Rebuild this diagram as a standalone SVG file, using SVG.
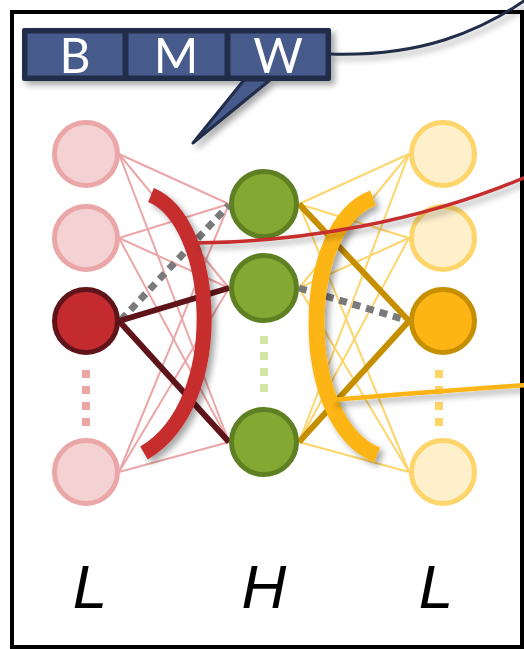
<svg xmlns="http://www.w3.org/2000/svg" width="524" height="649" viewBox="0 0 524 649">
  <defs>
    <filter id="shadow" x="-30%" y="-30%" width="160%" height="160%">
      <feDropShadow dx="4" dy="4" stdDeviation="3" flood-color="#000" flood-opacity="0.35"/>
    </filter>
    <style>
      .thinL { stroke: #eba6a7; stroke-width: 2; fill: none; }
      .thinR { stroke: #fdd56b; stroke-width: 2; fill: none; }
      .strongL { stroke: #5e1418; stroke-width: 6; fill: none; }
      .strongR { stroke: #c68f00; stroke-width: 6; fill: none; }
      .dotted { stroke: #7a7a7a; stroke-width: 7; stroke-dasharray: 8 6; fill: none; }
      .pinkN { fill: #f4d1d2; stroke: #eba6a7; stroke-width: 5; }
      .redN { fill: #c42b2e; stroke: #5e1418; stroke-width: 5; }
      .greenN { fill: #84a832; stroke: #5e7f22; stroke-width: 5; }
      .paleN { fill: #fff0cc; stroke: #fdd56b; stroke-width: 5; }
      .goldN { fill: #fdb515; stroke: #c68f00; stroke-width: 5; }
      .cell { fill: #465a8c; stroke: #222d4a; stroke-width: 3; }
      .cellText { font-family: Lato, "Open Sans", sans-serif; font-size: 48px; fill: #ffffff; text-anchor: middle; }
      .layer { font-family: "Liberation Sans", Arial, sans-serif; font-style: italic; font-size: 62px; fill: #000; text-anchor: middle; }
    </style>
  </defs>

  <rect width="524" height="649" fill="#ffffff"/>
  <!-- frame -->
  <rect x="12" y="12" width="510" height="635" fill="none" stroke="#000" stroke-width="4"/>

  <!-- connectors -->
  <g id="connectors">
    <!-- input layer to hidden layer -->
    <g>
      <line class="thinL" x1="119" y1="154" x2="229" y2="204"/>
      <line class="thinL" x1="119" y1="154" x2="229" y2="288"/>
      <line class="thinL" x1="119" y1="154" x2="229" y2="442"/>
      <line class="thinL" x1="119" y1="238" x2="229" y2="204"/>
      <line class="thinL" x1="119" y1="238" x2="229" y2="288"/>
      <line class="thinL" x1="119" y1="238" x2="229" y2="442"/>
      <line class="thinL" x1="119" y1="472" x2="229" y2="204"/>
      <line class="thinL" x1="119" y1="472" x2="229" y2="288"/>
      <line class="thinL" x1="119" y1="472" x2="229" y2="442"/>
    </g>
    <!-- hidden layer to output layer -->
    <g>
      <line class="thinR" x1="299" y1="204" x2="409" y2="154"/>
      <line class="thinR" x1="299" y1="204" x2="409" y2="238"/>
      <line class="thinR" x1="299" y1="204" x2="409" y2="472"/>
      <line class="thinR" x1="299" y1="288" x2="409" y2="154"/>
      <line class="thinR" x1="299" y1="288" x2="409" y2="238"/>
      <line class="thinR" x1="299" y1="288" x2="409" y2="472"/>
      <line class="thinR" x1="299" y1="442" x2="409" y2="154"/>
      <line class="thinR" x1="299" y1="442" x2="409" y2="238"/>
      <line class="thinR" x1="299" y1="442" x2="409" y2="472"/>
    </g>
    <!-- highlighted weights -->
    <line class="dotted" x1="121" y1="320" x2="229" y2="205"/>
    <line class="strongL" x1="119" y1="321" x2="229" y2="288"/>
    <line class="strongL" x1="119" y1="321" x2="229" y2="442"/>
    <line class="dotted" x1="299" y1="288" x2="409" y2="321"/>
    <line class="strongR" x1="299" y1="204" x2="409" y2="321"/>
    <line class="strongR" x1="299" y1="442" x2="409" y2="321"/>
  </g>

  <!-- input layer -->
  <g id="input-layer">
    <circle class="pinkN" cx="86" cy="154" r="31.5"/>
    <circle class="pinkN" cx="86" cy="238" r="31.5"/>
    <circle class="redN" cx="86" cy="321" r="31.5"/>
    <g fill="#eba6a7">
      <rect x="82" y="370" width="8" height="8"/>
      <rect x="82" y="386" width="8" height="8"/>
      <rect x="82" y="402" width="8" height="8"/>
      <rect x="82" y="418" width="8" height="8"/>
    </g>
    <circle class="pinkN" cx="86" cy="472" r="31.5"/>
  </g>

  <!-- hidden layer -->
  <g id="hidden-layer">
    <circle class="greenN" cx="264" cy="204" r="32.5"/>
    <circle class="greenN" cx="264" cy="288" r="32.5"/>
    <g fill="#d3e6a6">
      <rect x="260" y="336" width="8" height="8"/>
      <rect x="260" y="352" width="8" height="8"/>
      <rect x="260" y="368" width="8" height="8"/>
      <rect x="260" y="384" width="8" height="8"/>
    </g>
    <circle class="greenN" cx="264" cy="442" r="32.5"/>
  </g>

  <!-- output layer -->
  <g id="output-layer">
    <circle class="paleN" cx="443" cy="154" r="31.5"/>
    <circle class="paleN" cx="443" cy="238" r="31.5"/>
    <circle class="goldN" cx="443" cy="321" r="31.5"/>
    <g fill="#fdd56b">
      <rect x="435" y="370" width="8" height="8"/>
      <rect x="435" y="386" width="8" height="8"/>
      <rect x="435" y="402" width="8" height="8"/>
      <rect x="435" y="418" width="8" height="8"/>
    </g>
    <circle class="paleN" cx="443" cy="472" r="31.5"/>
  </g>

  <!-- brackets grouping the weights -->
  <g id="bracket-left" filter="url(#shadow)">
    <path d="M 151,195 C 216,222 230,402 144,453" fill="none" stroke="#c62d2f" stroke-width="15"/>
  </g>
  <g id="bracket-right" filter="url(#shadow)">
    <path d="M 373,198 C 298,226 296,422 377,455" fill="none" stroke="#fdb515" stroke-width="16"/>
  </g>

  <!-- lines leaving the brackets -->
  <g id="leader-lines" filter="url(#shadow)">
    <path d="M 195,243 C 300,242 420,222 526,177" fill="none" stroke="#c62d2f" stroke-width="3.5"/>
    <path d="M 332,400 C 400,394 470,389 526,385" fill="none" stroke="#fdb515" stroke-width="4.5"/>
  </g>

  <!-- B M W callout -->
  <g id="callout" filter="url(#shadow)">
    <path d="M 330,54 C 420,57 480,32 530,-3" fill="none" stroke="#222d4a" stroke-width="3"/>
    <rect x="22" y="28" width="309" height="53" rx="2" fill="#222d4a"/>
    <rect class="cell" x="26" y="32" width="98" height="45"/>
    <rect class="cell" x="127" y="32" width="99" height="45"/>
    <rect class="cell" x="229" y="32" width="98" height="45"/>
    <path d="M 244,80 L 193,143 L 270,80 Z" fill="#465a8c" stroke="#222d4a" stroke-width="3" stroke-linejoin="round"/>
    <text class="cellText" x="75" y="73">B</text>
    <text class="cellText" x="176" y="73">M</text>
    <text class="cellText" x="278" y="73">W</text>
  </g>

  <!-- layer labels -->
  <text class="layer" x="90" y="608">L</text>
  <text class="layer" x="264" y="608">H</text>
  <text class="layer" x="436" y="608">L</text>
</svg>
